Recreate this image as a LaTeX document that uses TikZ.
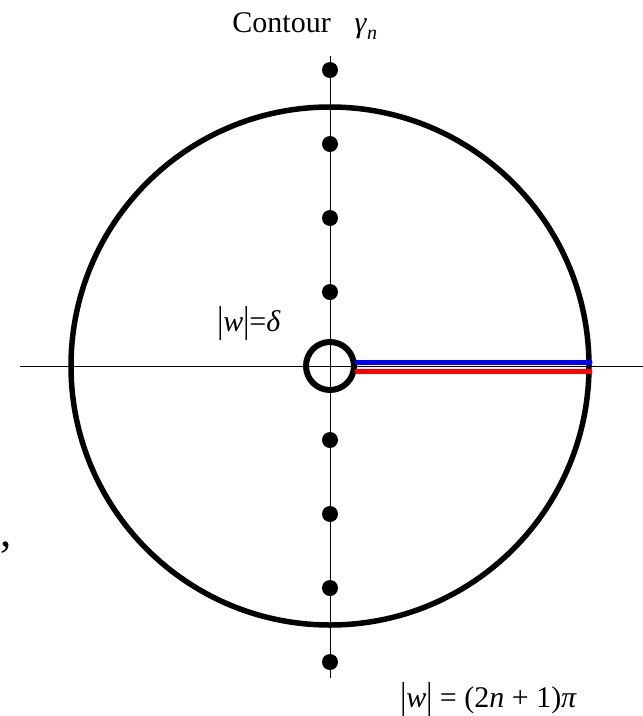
\documentclass[tikz,border=0pt]{standalone}
\usepackage{fontspec}
\setmainfont{Liberation Serif}
\usetikzlibrary{positioning}

\newcommand{\tallbar}{\raisebox{-0.06em}{\scalebox{1}[1.25]{|}}}

\begin{document}
\begin{tikzpicture}[x=1pt, y=-1pt, thick]

    \tikzstyle{pole}=[circle, fill=black, inner sep=0pt, minimum size=16pt]
    \tikzstyle{contour}=[line width=5.5pt, draw=black]
    \tikzstyle{axis}=[line width=0.9pt, draw=black]
    \tikzstyle{cut}=[line width=5pt, line cap=round]
    \tikzstyle{label}=[inner sep=0pt, font=\fontsize{30}{34}\selectfont]

    \useasboundingbox (0,0) rectangle (643,716);

    \coordinate (ORIGIN) at (330,366);
    \coordinate (XMIN) at (20,366);
    \coordinate (XMAX) at (643,366);
    \coordinate (YMAX) at (330,56);
    \coordinate (YMIN) at (330,678);

    \draw[axis] (XMIN) -- (XMAX);
    \draw[axis] (YMAX) -- (YMIN);

    \foreach \k in {1,...,4} {
      \node[pole] (UP\k) at (330,366-74*\k) {};
      \node[pole] (DOWN\k) at (330,366+74*\k) {};
    }

    \draw[contour] (ORIGIN) circle[radius=259];
    \draw[contour, line width=6pt] (ORIGIN) circle[radius=24];

    \coordinate (BLUESTART) at (357,362);
    \coordinate (BLUEEND) at (590,362);
    \coordinate (REDSTART) at (357,371);
    \coordinate (REDEND) at (590,371);
    \draw[cut, blue] (BLUESTART) -- (BLUEEND);
    \draw[cut, red] (REDSTART) -- (REDEND);

    \node[label, anchor=base west] (TITLE) at (232,32)
      {Contour\hspace{0.8em}\textit{γ}\raisebox{-0.25em}{\fontsize{20}{22}\selectfont\textit{n}}};
    \node[label, anchor=base west] (SMALL) at (217,331)
      {\tallbar\textit{w}\tallbar=\textit{δ}};
    \node[label, anchor=base west] (BIG) at (400,707)
      {\tallbar\textit{w}\tallbar\ = (2\textit{n} + 1)\textit{π}};
    \node[inner sep=0pt, anchor=base west, font=\fontsize{45}{50}\selectfont] (MARK) at (0,546) {,};

  \end{tikzpicture}
\end{document}
